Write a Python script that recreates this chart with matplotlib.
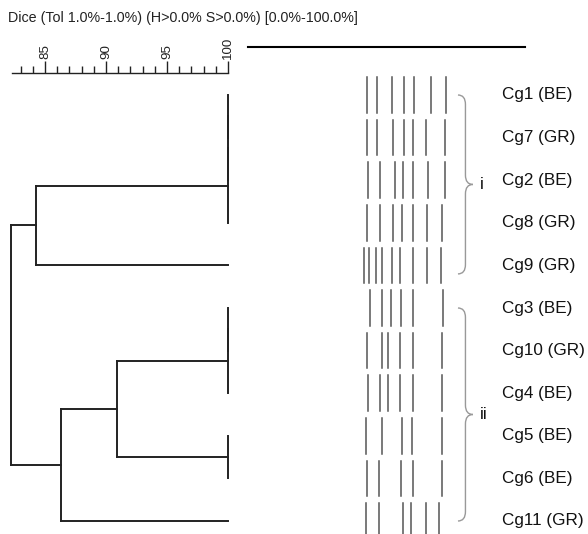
import matplotlib.pyplot as plt
from matplotlib.path import Path
from matplotlib.patches import PathPatch

plt.rcParams['font.family'] = ['Liberation Sans', 'DejaVu Sans']

title = "Dice (Tol 1.0%-1.0%) (H>0.0% S>0.0%) [0.0%-100.0%]"

strains = ["Cg1 (BE)", "Cg7 (GR)", "Cg2 (BE)", "Cg8 (GR)", "Cg9 (GR)",
           "Cg3 (BE)", "Cg10 (GR)", "Cg4 (BE)", "Cg5 (BE)", "Cg6 (BE)",
           "Cg11 (GR)"]

# merges like a linkage table: child a, child b, similarity (%)
# leaves are 0..10, new nodes numbered from 11 on
merges = [(0, 1, 100.0), (11, 2, 100.0), (12, 3, 100.0), (13, 4, 84.3),
          (5, 6, 100.0), (15, 7, 100.0), (8, 9, 100.0), (16, 17, 90.9),
          (18, 10, 86.3), (14, 19, 82.25)]

# band positions, % of the gel strip width
bands = [
    [43.1, 46.5, 52.1, 56.3, 59.9, 66.2, 71.5],
    [42.9, 46.5, 52.5, 56.3, 59.7, 64.3, 71.2],
    [43.2, 47.7, 53.1, 56.1, 59.5, 65.1, 71.1],
    [42.9, 47.7, 52.5, 55.5, 59.5, 64.7, 69.9],
    [41.9, 43.7, 46.2, 48.3, 51.9, 54.9, 59.5, 64.7, 69.6],
    [44.0, 48.3, 51.5, 55.1, 59.5, 70.3],
    [43.1, 48.3, 50.6, 54.9, 59.5, 70.0],
    [43.4, 47.7, 50.4, 54.9, 59.5, 69.9],
    [42.6, 48.3, 55.5, 59.1, 69.9],
    [42.9, 47.3, 55.2, 59.7, 70.0],
    [42.6, 47.3, 55.8, 58.8, 64.3, 68.8],
]

groups = ["i", "ii"]
group_rows = [(0.0, 4.2), (5.0, 10.0)]

W, H = 588, 534
fig = plt.figure(figsize=(W / 100, H / 100), dpi=100)


def px_axes(x0, y0, x1, y1):
    return fig.add_axes([x0 / W, 1 - y1 / H, (x1 - x0) / W, (y1 - y0) / H])


row0, step = 95, 42.6
ylim = ((534 - row0) / step, (47 - row0) / step)
xlim_d = (100 - 228 / 12.2, 100 + 12 / 12.2)

fig.text(8 / W, 1 - 18 / H, title, ha='left', va='center', fontsize=10.3,
         color='#222222')

# dendrogram
ax = px_axes(0, 47, 240, 534)
ax.set_xlim(xlim_d)
ax.set_ylim(ylim)
ax.axis('off')
ypos = list(range(len(strains)))
xpos = [100.0] * len(strains)
lk = dict(color='#222222', lw=1.4, solid_capstyle='projecting')
for a, b, s in merges:
    for c in (a, b):
        ax.plot([s, xpos[c]], [ypos[c], ypos[c]], **lk)
    ax.plot([s, s], [ypos[a], ypos[b]], **lk)
    ypos.append((ypos[a] + ypos[b]) / 2)
    xpos.append(s)

# similarity scale
axs = fig.add_axes([0, 1 - 73 / H, 240 / W, 0.0001])
axs.set_xlim(xlim_d)
for sp in ['bottom', 'left', 'right']:
    axs.spines[sp].set_visible(False)
axs.spines['top'].set_bounds(82.3, 100)
axs.spines['top'].set_linewidth(1.0)
axs.spines['top'].set_color('#222222')
axs.set_yticks([])
axs.xaxis.set_ticks_position('top')
axs.set_xticks([85, 90, 95, 100])
axs.set_xticks(list(range(83, 100)), minor=True)
axs.tick_params(axis='x', which='major', length=9, width=1, color='#222222',
                labelrotation=90, labelsize=9.6, pad=1, labelcolor='#222222')
axs.tick_params(axis='x', which='minor', length=5, width=1, color='#222222')

# gel strip
ag = px_axes(248, 47, 525, 534)
ag.set_xlim(0, 100)
ag.set_ylim(ylim)
ag.set_xticks([])
ag.set_yticks([])
for sp in ['bottom', 'left', 'right']:
    ag.spines[sp].set_visible(False)
ag.spines['top'].set_linewidth(1.5)
for i, row in enumerate(bands):
    for b in row:
        ag.plot([b, b], [i - 0.42, i + 0.42], color='#555555', lw=1.1)

for i, name in enumerate(strains):
    ag.text(91.7, i, name, ha='left', va='center', fontsize=12.3,
            color='#111111', clip_on=False)


def brace(axx, x0, y0, y1, w, h):
    xm = x0 + w / 2
    ym = (y0 + y1) / 2
    verts = [(x0, y0), (xm, y0), (xm, y0 + h),
             (xm, ym - h), (xm, ym), (x0 + w, ym),
             (xm, ym), (xm, ym + h),
             (xm, y1 - h), (xm, y1), (x0, y1)]
    codes = [Path.MOVETO, Path.CURVE3, Path.CURVE3,
             Path.LINETO, Path.CURVE3, Path.CURVE3,
             Path.CURVE3, Path.CURVE3,
             Path.LINETO, Path.CURVE3, Path.CURVE3]
    axx.add_patch(PathPatch(Path(verts, codes), fill=False, ec='#999999',
                            lw=1.0, clip_on=False))


for g, (y0, y1) in zip(groups, group_rows):
    brace(ag, 75.8, y0, y1, 5.4, 0.22)
    ag.text(83.8, (y0 + y1) / 2, g, ha='left', va='center', fontsize=12.3,
            color='#111111')

fig.savefig('out.png', dpi=100)
